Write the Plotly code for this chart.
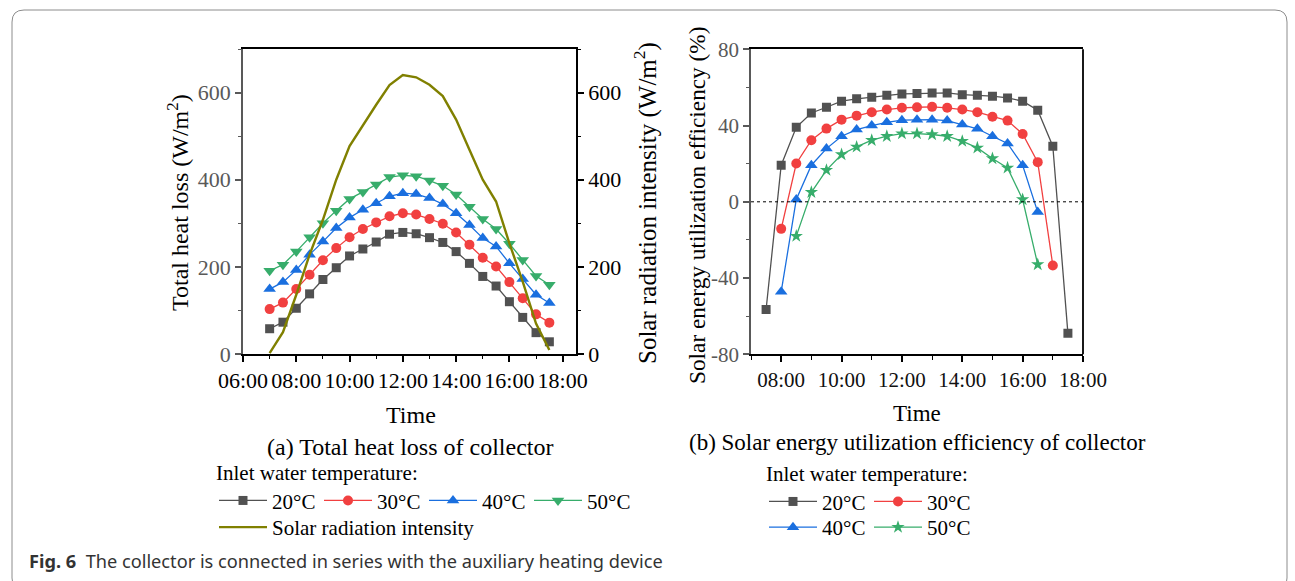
import plotly.graph_objects as go

W, H = 1295, 581

# ---- (a) total heat loss, half-hourly from 07:00 to 17:30 ----
times_a = ["07:00", "07:30", "08:00", "08:30", "09:00", "09:30", "10:00", "10:30",
           "11:00", "11:30", "12:00", "12:30", "13:00", "13:30", "14:00", "14:30",
           "15:00", "15:30", "16:00", "16:30", "17:00", "17:30"]
loss_20 = [58, 73, 105, 138, 171, 198, 225, 241, 257, 275, 279, 276, 267, 256, 235, 208,
           178, 156, 120, 84, 49, 28]
loss_30 = [103, 118, 149, 182, 215, 243, 268, 287, 302, 316, 323, 320, 310, 299, 279, 251,
           221, 201, 165, 128, 91, 72]
loss_40 = [149, 165, 193, 228, 258, 289, 313, 331, 346, 362, 369, 367, 358, 344, 323, 296,
           266, 247, 208, 172, 136, 117]
loss_50 = [191, 205, 235, 268, 300, 329, 356, 372, 389, 406, 410, 408, 398, 386, 366, 338,
           310, 287, 253, 216, 179, 159]
solar = [2, 50, 136, 228, 308, 400, 477, 525, 572, 617, 640, 635, 618, 592, 538, 469,
         400, 350, 254, 166, 70, 9]

# ---- (b) solar energy utilization efficiency ----
times_b20 = ["07:30", "08:00", "08:30", "09:00", "09:30", "10:00", "10:30", "11:00",
             "11:30", "12:00", "12:30", "13:00", "13:30", "14:00", "14:30", "15:00",
             "15:30", "16:00", "16:30", "17:00", "17:30"]
eff_20 = [-56.5, 19.2, 39.1, 46.6, 49.6, 52.8, 54.0, 54.8, 55.9, 56.6, 56.8, 57.1, 57.1,
          56.2, 55.9, 55.4, 54.5, 52.8, 48.0, 29.2, -69.0]
times_b30 = times_b20[1:20]
eff_30 = [-14.2, 20.1, 32.3, 38.4, 43.1, 45.2, 47.0, 48.4, 49.3, 49.6, 49.8, 49.3, 48.4,
          47.0, 44.6, 42.6, 35.6, 20.8, -33.4]
times_b40 = times_b20[1:19]
eff_40 = [-47.2, 1.2, 19.2, 27.9, 34.4, 37.9, 40.0, 41.7, 42.8, 43.1, 43.1, 42.6, 40.5,
          38.3, 34.4, 30.6, 19.2, -5.4]
times_b50 = times_b20[2:19]
eff_50 = [-18.0, 5.0, 16.6, 24.8, 28.8, 32.3, 34.4, 35.8, 35.8, 35.3, 34.4, 31.8, 28.3,
          22.7, 17.8, 1.2, -32.9]

temp_labels = ["20°C", "30°C", "40°C", "50°C"]
colors = ["#515151", "#F14040", "#1A6FDF", "#37AD6B"]
olive = "#808000"

hour_ticks = [6, 8, 10, 12, 14, 16, 18]
hour_text = ["06:00", "08:00", "10:00", "12:00", "14:00", "16:00", "18:00"]
loss_ticks = [0, 200, 400, 600]
eff_ticks = [-80, -40, 0, 40, 80]
eff_text = ["-80", "-40", "0", "40", "80"]

SERIF = "Liberation Serif"


def hours(labels):
    return [int(t[:2]) + int(t[3:]) / 60 for t in labels]


def px(x):
    return x / W


def py(y):
    return 1 - y / H


fig = go.Figure()

loss_sets = [(loss_20, "square", 9), (loss_30, "circle", 10),
             (loss_40, "triangle-up", 11), (loss_50, "triangle-down", 11)]
for (vals, sym, size), name, col in zip(loss_sets, temp_labels, colors):
    fig.add_trace(go.Scatter(
        x=hours(times_a), y=vals, name=name, mode="lines+markers",
        line=dict(color=col, width=1.3),
        marker=dict(symbol=sym, size=size, color=col, line=dict(width=0)),
        xaxis="x", yaxis="y", legend="legend"))

fig.add_trace(go.Scatter(
    x=hours(times_a), y=solar, name="Solar radiation intensity", mode="lines",
    line=dict(color=olive, width=2.4), xaxis="x", yaxis="y2", legend="legend3"))

eff_sets = [(times_b20, eff_20, "square", 9, "legend2"),
            (times_b30, eff_30, "circle", 10, "legend2"),
            (times_b40, eff_40, "triangle-up", 11, "legend4"),
            (times_b50, eff_50, "star", 10, "legend4")]
for (tt, vals, sym, size, lg), name, col in zip(eff_sets, temp_labels, colors):
    fig.add_trace(go.Scatter(
        x=hours(tt), y=vals, name=name, mode="lines+markers",
        line=dict(color=col, width=1.3),
        marker=dict(symbol=sym, size=size, color=col, line=dict(width=0)),
        xaxis="x2", yaxis="y3", legend=lg))

axis_common = dict(showgrid=False, zeroline=False, ticks="outside", ticklen=6,
                   tickwidth=1.5, linewidth=1.8, showline=True, automargin=False)

black_22 = dict(family=SERIF, size=22, color="#000000")
gray_22 = dict(family=SERIF, size=22, color="#595959")
gray_21 = dict(family=SERIF, size=21, color="#595959")

legend_base = dict(orientation="h", xanchor="left", yanchor="top",
                   bgcolor="rgba(0,0,0,0)", borderwidth=0, itemwidth=48,
                   font=dict(family=SERIF, size=21, color="#000000"),
                   tracegroupgap=0)
legend_title = dict(text="Inlet water temperature:", side="top",
                    font=dict(family=SERIF, size=21, color="#000000"))

fig.update_layout(
    width=W, height=H, autosize=False,
    margin=dict(l=0, r=0, t=0, b=0, pad=0, autoexpand=False),
    paper_bgcolor="white", plot_bgcolor="white", showlegend=True,
    xaxis=dict(domain=[px(243), px(576)], range=[6, 18.5], tickmode="array",
               tickvals=hour_ticks, ticktext=hour_text, tickangle=0,
               linecolor="#000000", tickcolor="#000000", mirror=True,
               tickfont=black_22,
               minor=dict(tickmode="array", tickvals=[7, 9, 11, 13, 15, 17],
                          ticks="outside", ticklen=3.5, tickwidth=1.2, tickcolor="#000000"),
               anchor="y", **axis_common),
    yaxis=dict(domain=[py(354), py(49)], range=[0, 700], tickmode="array",
               tickvals=loss_ticks, linecolor="#595959", tickcolor="#595959",
               tickfont=gray_22, anchor="x",
               minor=dict(tickmode="array", tickvals=[100, 300, 500, 700],
                          ticks="outside", ticklen=3.5, tickwidth=1.2, tickcolor="#595959"),
               **axis_common),
    yaxis2=dict(range=[0, 700], overlaying="y", side="right", anchor="x",
                tickmode="array", tickvals=loss_ticks, linecolor="#000000",
                tickcolor="#000000", tickfont=black_22,
                minor=dict(tickmode="array", tickvals=[100, 300, 500, 700],
                           ticks="outside", ticklen=3.5, tickwidth=1.2, tickcolor="#000000"),
                **axis_common),
    xaxis2=dict(domain=[px(751), px(1083)], range=[7, 18], tickmode="array",
                tickvals=hour_ticks[1:], ticktext=hour_text[1:], tickangle=0,
                linecolor="#000000", tickcolor="#000000", mirror=True,
                tickfont=dict(family=SERIF, size=21, color="#111111"),
                minor=dict(tickmode="array", tickvals=[7, 9, 11, 13, 15, 17],
                           ticks="outside", ticklen=3.5, tickwidth=1.2, tickcolor="#000000"),
                anchor="y3", **axis_common),
    yaxis3=dict(domain=[py(354.3), py(49.3)], range=[-80, 80], tickmode="array",
                tickvals=eff_ticks, ticktext=eff_text, linecolor="#595959",
                tickcolor="#595959", tickfont=gray_21, anchor="x2",
                minor=dict(tickmode="array", tickvals=[-60, -20, 20, 60],
                           ticks="outside", ticklen=3.5, tickwidth=1.2, tickcolor="#595959"),
                **axis_common),
    legend=dict(x=px(214), y=py(453), title=legend_title, entrywidth=42, **legend_base),
    legend3=dict(x=px(214), y=py(507), **legend_base),
    legend2=dict(x=px(764), y=py(454), title=legend_title, entrywidth=42, **legend_base),
    legend4=dict(x=px(764), y=py(507), entrywidth=42, **legend_base),
)

# zero reference line and right frame edge of panel (b)
fig.add_shape(type="line", xref="x2 domain", x0=0, x1=1, yref="y3", y0=0, y1=0,
              line=dict(color="#000000", width=1, dash="dot"))
fig.add_shape(type="line", xref="x2 domain", x0=1, x1=1, yref="y3 domain", y0=0, y1=1,
              line=dict(color="#000000", width=1.8))

# rounded outer frame
x0, x1 = px(12), px(1287)
yt, yb = py(10), py(590)
rx, ry = 12 / W, 12 / H
frame = (f"M {x0 + rx},{yt} L {x1 - rx},{yt} Q {x1},{yt} {x1},{yt - ry} "
         f"L {x1},{yb + ry} Q {x1},{yb} {x1 - rx},{yb} L {x0 + rx},{yb} "
         f"Q {x0},{yb} {x0},{yb + ry} L {x0},{yt - ry} Q {x0},{yt} {x0 + rx},{yt} Z")
fig.add_shape(type="path", xref="paper", yref="paper", path=frame,
              line=dict(color="#8c8c8c", width=1))


def label(text, x, y, size=22, angle=0, anchor="center", family=SERIF, color="#000000"):
    fig.add_annotation(text=text, x=px(x), y=py(y), xref="paper", yref="paper",
                       showarrow=False, textangle=angle, xanchor=anchor, yanchor="middle",
                       font=dict(family=family, size=size, color=color))


label("Total heat loss (W/m<sup>2</sup>)", 178, 203, size=24, angle=-90)
label("Solar radiation intensity (W/m<sup>2</sup>)", 645, 203, size=25, angle=-90)
label("Solar energy utilization efficiency (%)", 697, 205, size=23.3, angle=-90)
label("Time", 411, 415, size=24)
label("Time", 917, 413, size=23)
label("(a) Total heat loss of collector", 410, 447, size=24)
label("(b) Solar energy utilization efficiency of collector", 917, 442, size=23)
label("<b>Fig. 6</b>  The collector is connected in series with the auxiliary heating device",
      27, 561, size=18.2, anchor="left", family="Noto Sans", color="#333333")

# page without body margin or scrollbars so the figure fills the window exactly
page_css = ("document.documentElement.style.overflow='hidden';"
            "document.body.style.margin='0';document.body.style.overflow='hidden';")
fig.write_html("out.html", post_script=page_css)
